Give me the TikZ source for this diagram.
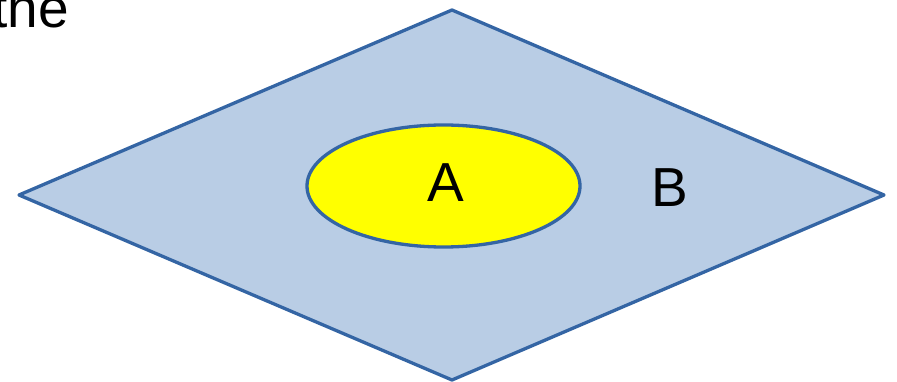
\documentclass[tikz,border=0pt]{standalone}
\usepackage{fontspec}
\setmainfont{Liberation Sans}
\usetikzlibrary{shapes.geometric}
\definecolor{setfill}{RGB}{185,205,229}
\definecolor{setline}{RGB}{52,101,164}
\definecolor{setyellow}{RGB}{255,255,0}

\begin{document}
\begin{tikzpicture}[
  x=1pt, y=-1pt,
  font=\fontsize{55}{66}\selectfont,
  outer/.style={draw=setline, fill=setfill, line width=3.3pt, line join=round},
  inner/.style={ellipse, draw=setline, fill=setyellow, line width=3.3pt,
    minimum width=273pt, minimum height=122pt, inner sep=0pt},
  letter/.style={anchor=base, inner sep=0pt}
]
\useasboundingbox (0,0) rectangle (897,382);

% the set B
\draw[outer] (452,10) -- (884,195) -- (452,380) -- (19,195) -- cycle;

% the set A inside it
\node[inner] (setA) at (443.5,186) {};
\node[letter] (labelA) at (446,202) {A};
\node[letter] (labelB) at (670,207) {B};

% word cut off at the corner
\node[anchor=base west, inner sep=0pt] (cutword) at (-8,28) {the};
\end{tikzpicture}
\end{document}
